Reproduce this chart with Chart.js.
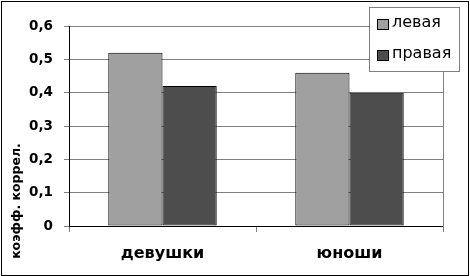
<!DOCTYPE html>
<html>
<head>
<meta charset="utf-8">
<script src="https://cdn.jsdelivr.net/npm/chart.js@4/dist/chart.umd.min.js"></script>
<style>
html,body{margin:0;padding:0;background:#fff;}
canvas{display:block;}
</style>
</head>
<body>
<canvas id="c" width="470" height="276"></canvas>
<script>
const categories = ['девушки', 'юноши'];
const seriesNames = ['левая', 'правая'];
const leftValues = [0.52, 0.46];
const rightValues = [0.42, 0.40];
const yTicks = [0, 0.1, 0.2, 0.3, 0.4, 0.5, 0.6];
const yTitle = 'коэфф. коррел.';

const colors = ['#a0a0a0', '#4d4d4d'];
const FONT = '"DejaVu Sans", "Liberation Sans", Arial, sans-serif';

const decor = {
  id: 'decor',
  afterDraw(chart) {
    const ctx = chart.ctx;
    const a = chart.chartArea;
    ctx.save();
    // right border of plot area
    ctx.strokeStyle = '#808080';
    ctx.lineWidth = 1;
    ctx.beginPath();
    ctx.moveTo(Math.round(a.right) + 0.5, a.top);
    ctx.lineTo(Math.round(a.right) + 0.5, a.bottom + 6);
    ctx.stroke();
    // legend
    const lx = 369, ly = 7, lw = 90, lh = 64;
    ctx.fillStyle = '#fff';
    ctx.fillRect(lx, ly, lw, lh);
    ctx.strokeStyle = '#808080';
    ctx.strokeRect(lx + 0.5, ly + 0.5, lw, lh);
    chart.data.datasets.forEach((ds, i) => {
      const sy = 19 + i * 31;
      ctx.fillStyle = ds.backgroundColor;
      ctx.fillRect(377, sy, 11, 10);
      ctx.strokeStyle = '#000';
      ctx.strokeRect(377.5, sy + 0.5, 11, 10);
      ctx.fillStyle = '#000';
      ctx.font = '16px ' + FONT;
      ctx.textBaseline = 'middle';
      ctx.textAlign = 'left';
      ctx.fillText(ds.label, 392, sy + 4);
    });
    // y axis title
    ctx.translate(20, 201);
    ctx.rotate(-Math.PI / 2);
    ctx.font = 'bold 12.5px ' + FONT;
    ctx.fillStyle = '#000';
    ctx.textAlign = 'center';
    ctx.textBaseline = 'alphabetic';
    ctx.fillText(yTitle, 0, 0);
    ctx.restore();
    // outer frame
    ctx.save();
    ctx.strokeStyle = '#000';
    ctx.lineWidth = 1;
    ctx.strokeRect(1.5, 1.5, 467, 274);
    ctx.restore();
  }
};

new Chart(document.getElementById('c'), {
  type: 'bar',
  data: {
    labels: categories,
    datasets: [
      { label: seriesNames[0], data: leftValues, backgroundColor: colors[0], borderColor: '#000', borderWidth: 1, borderSkipped: false },
      { label: seriesNames[1], data: rightValues, backgroundColor: colors[1], borderColor: '#000', borderWidth: 1, borderSkipped: false }
    ]
  },
  options: {
    responsive: false,
    animation: false,
    devicePixelRatio: 1,
    layout: { padding: { top: 26, right: 27, left: 0, bottom: 0 } },
    datasets: { bar: { categoryPercentage: 0.58, barPercentage: 1.0 } },
    plugins: { legend: { display: false }, tooltip: { enabled: false } },
    scales: {
      x: {
        offset: true,
        grid: { offset: true, drawOnChartArea: false, tickLength: 6, tickColor: '#808080' },
        border: { color: '#000' },
        ticks: { color: '#000', padding: 12, font: { family: FONT, size: 16, weight: 'bold' } },
        afterFit(s) { s.height = 50; }
      },
      y: {
        min: 0, max: 0.6,
        afterBuildTicks(s) { s.ticks = yTicks.map(v => ({ value: v })); },
        grid: { color: '#808080', tickLength: 5, tickColor: '#808080' },
        border: { color: '#000' },
        ticks: {
          color: '#000', padding: 11,
          font: { family: FONT, size: 13.5, weight: 'bold' },
          callback: v => v === 0 ? '0' : v.toFixed(1).replace('.', ',')
        },
        afterFit(s) { s.width = 69; }
      }
    }
  },
  plugins: [decor]
});
</script>
</body>
</html>
